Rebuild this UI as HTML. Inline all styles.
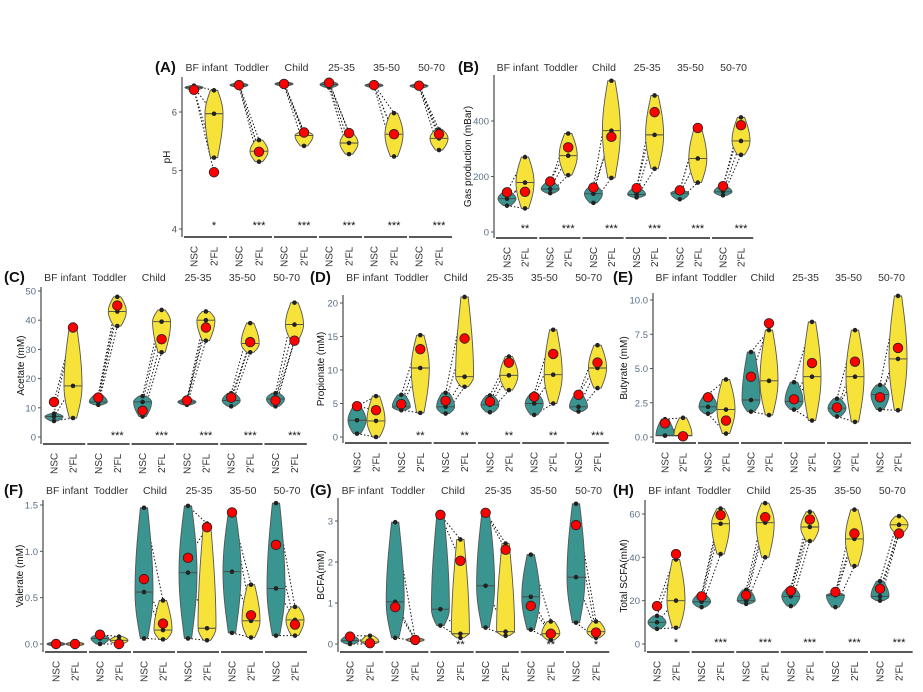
<!DOCTYPE html>
<html><head><meta charset="utf-8">
<style>
html,body{margin:0;padding:0;background:#fff;}
svg{display:block;font-family:"Liberation Sans",sans-serif;}
</style></head>
<body>
<svg id="fig" width="923" height="692" viewBox="0 0 923 692" xmlns="http://www.w3.org/2000/svg"></svg>
<script>
const groups = ["BF infant","Toddler","Child","25-35","35-50","50-70"];
// Panel A pH
const aNsc=[[6.38,6.42,6.45],[6.44,6.46,6.48],[6.46,6.48,6.5],[6.42,6.47,6.52],[6.44,6.46,6.47],[6.43,6.45,6.46]];
const aFl=[[5.22,5.97,6.37],[5.15,5.33,5.52],[5.42,5.6,5.66],[5.28,5.47,5.65],[5.24,5.62,5.98],[5.35,5.55,5.7]];
const aRed=[[6.38,4.97],[6.46,5.32],[6.48,5.65],[6.5,5.64],[6.46,5.62],[6.45,5.62]];
const aSig=["*","***","***","***","***","***"];
const aTicks=[4,5,6];
// Panel B gas
const bNsc=[[95,120,145],[140,155,180],[105,138,165],[125,135,158],[118,140,150],[132,145,165]];
const bFl=[[85,178,270],[205,275,355],[195,365,545],[228,350,492],[178,265,375],[278,328,413]];
const bRed=[[143,145],[182,305],[160,343],[158,432],[150,375],[165,385]];
const bSig=["**","***","***","***","***","***"];
const bTicks=[0,200,400];
// Panel C acetate
const cNsc=[[5.5,7,8],[11,12,14.5],[7,12,14],[11,12,13],[10.5,12.5,15],[10.5,13,15]];
const cFl=[[6.5,17.5,38],[38,43,48],[29,39.5,43.5],[33,40,43],[29,32,39],[33,38.5,46]];
const cRed=[[12,37.5],[13.5,45],[9,33.5],[12.5,37.5],[13.5,32.5],[12.5,33]];
const cSig=["","***","***","***","***","***"];
const cTicks=[0,10,20,30,40,50];
// Panel D propionate
const dNsc=[[0.5,2.5,4.6],[4,4.5,6.3],[3.5,4.5,6.6],[3.7,4.8,6.2],[3.3,5,6.5],[3.8,4.5,6.4]];
const dFl=[[0,2.4,6.1],[3.6,10.3,15.2],[7.5,9,20.9],[7,9.2,12],[5,9.3,16],[7.3,10.3,13.7]];
const dRed=[[4.6,4.0],[4.9,13.1],[5.4,14.7],[5.3,11.1],[6,12.4],[6.3,11.1]];
const dSig=["","**","**","**","**","***"];
const dTicks=[0,5,10,15,20];
// Panel E butyrate
const eNsc=[[0.1,0.1,1.3],[1.7,2.2,3.1],[1.85,2.7,6.2],[2,2.6,4],[1.5,2.1,2.8],[2,3.1,3.8]];
const eFl=[[0.1,0.1,1.4],[0.25,2,4.2],[1.6,4.1,7.8],[1.2,4.4,8.4],[1.1,4.4,7.8],[1.95,5.7,10.3]];
const eRed=[[1.0,0.05],[2.9,1.2],[4.4,8.3],[2.75,5.4],[2.15,5.5],[2.9,6.5]];
const eSig=["","","","","",""];
const eTicks=[0,2.5,5,7.5,10];
// Panel F valerate
const fNsc=[[0,0,0],[0,0.06,0.1],[0.06,0.56,1.47],[0.06,0.77,1.49],[0.12,0.78,1.42],[0.09,0.6,1.52]];
const fFl=[[0,0,0],[0,0.04,0.08],[0.05,0.15,0.47],[0.04,0.17,1.3],[0.07,0.25,0.64],[0.09,0.26,0.4]];
const fRed=[[0,0],[0.1,0],[0.7,0.22],[0.93,1.26],[1.42,0.31],[1.07,0.21]];
const fSig=["","","","","",""];
const fTicks=[0,0.5,1,1.5];
// Panel G BCFA
const gNsc=[[0,0.08,0.2],[0.15,1.03,2.97],[0.45,0.85,3.15],[0.4,1.42,3.22],[0.35,1.15,2.18],[0.52,1.63,3.42]];
const gFl=[[0,0.05,0.2],[0.08,0.1,0.12],[0.15,0.25,2.55],[0.2,0.3,2.45],[0.1,0.25,0.55],[0.15,0.3,0.55]];
const gRed=[[0.18,0.02],[0.9,0.1],[3.15,2.03],[3.2,2.3],[0.93,0.25],[2.9,0.28]];
const gSig=["","","**","","**","*"];
const gTicks=[0,1,2,3];
// Panel H total SCFA
const hNsc=[[7,10,13],[17,19.5,23],[18.5,20,25],[17.5,22,26],[17,22.5,23.5],[20,22,29]];
const hFl=[[7.5,20,39],[41.5,55.5,62.5],[40,56,65],[47.5,54,61],[36,48.5,62],[51,55,59]];
const hRed=[[17.5,41.5],[22,59.5],[22.5,58.5],[24.5,57.5],[24,51],[25.5,51]];
const hSig=["*","***","***","***","***","***"];
const hTicks=[0,20,40,60];

const svg=document.getElementById('fig');
const NS="http://www.w3.org/2000/svg";
function mk(tag,attrs,parent){const e=document.createElementNS(NS,tag);for(const k in attrs)e.setAttribute(k,attrs[k]);(parent||svg).appendChild(e);return e;}

function panel(cfg,nsc,fl,red,sig,ticks){
  const g=mk('g',{});
  
  
  const y=v=>cfg.y0+(v-cfg.v0)*(cfg.y1-cfg.y0)/(cfg.v1-cfg.v0);
  const lt=mk('text',{x:cfg.lx,y:cfg.ly+5,'font-size':15,'font-weight':'bold',fill:'#111'},g);
  lt.textContent='('+cfg.letter+')';
  
  
  const ax=mk('line',{x1:cfg.ax,x2:cfg.ax,y1:cfg.top,y2:cfg.bot,stroke:'#555','stroke-width':1.3},g);
  
  
  ticks.forEach(t=>{
    const ty=y(t);
    mk('line',{x1:cfg.ax-3,x2:cfg.ax,y1:ty,y2:ty,stroke:'#555','stroke-width':1},g);
    const tt=mk('text',{x:cfg.ax-5,y:ty+3.5,'font-size':9.5,'text-anchor':'end',fill:cfg.tickCol},g);
    tt.textContent=cfg.fmt?cfg.fmt(t):String(t);
    
    
  });
  const yl=mk('text',{x:cfg.ylx,y:(cfg.top+cfg.bot)/2,'font-size':10,'text-anchor':'middle',fill:'#111',transform:'rotate(-90 '+cfg.ylx+' '+((cfg.top+cfg.bot)/2)+')'},g);
  yl.textContent=cfg.ylabel;
  
  
  groups.forEach((name,i)=>{
    const fx=cfg.ax+1+i*cfg.fw;
    const xn=fx+cfg.on, xf=fx+cfg.of;
    const gl=mk('text',{x:fx+cfg.fw/2+1,y:cfg.ly+4,'font-size':10.5,'text-anchor':'middle',fill:'#333'},g);
    gl.textContent=name;
    
    
    const seg=mk('line',{x1:fx+1,x2:fx+cfg.fw-1,y1:cfg.bot,y2:cfg.bot,stroke:'#222','stroke-width':1.6},g);
    
    
    [[xn,'NSC'],[xf,"2'FL"]].forEach(([xx,lab])=>{
      const t=mk('text',{'font-size':10,'text-anchor':'start',fill:'#333'},g);
      t.setAttribute('transform','translate('+(xx+3.5)+','+(cfg.bot+4)+') rotate(-90)');
      t.setAttribute('x',-28+(lab==='NSC'?2:3));t.setAttribute('y',0);
      t.textContent=lab;
      
      
    });
    for(let k=0;k<3;k++){
      mk('line',{x1:xn,y1:y(nsc[i][k]),x2:xf,y2:y(fl[i][k]),stroke:'#111','stroke-width':1,'stroke-dasharray':'1.5,2'},g);
    }
    mk('line',{x1:xn,y1:y(red[i][0]),x2:xf,y2:y(red[i][1]),stroke:'#111','stroke-width':1,'stroke-dasharray':'1.5,2'},g);
    [[xn,nsc[i],'#3a9590','violin-nsc'],[xf,fl[i],'#f7e23a','violin-2fl']].forEach(([cx,s,col,nm])=>{
      let ymin=y(s[0]), ymax=y(s[2]), ymed=y(s[1]);
      if(ymin-ymax<4){const c=(ymin+ymax)/2;ymin=c+2;ymax=c-2;ymed=c;}
      const N=24,W=cfg.vw,L=[],R=[];
      for(let j=0;j<=N;j++){
        const py=ymin+(ymax-ymin)*j/N;
        let sv= py>ymed ? (ymin-py)/Math.max(ymin-ymed,0.5) : (py-ymax)/Math.max(ymed-ymax,0.5);
        sv=Math.max(0,Math.min(1,sv));
        const w=W*(0.4+0.6*Math.sin(Math.PI/2*sv));
        L.push((cx-w)+','+py);R.unshift((cx+w)+','+py);
      }
      const v=mk('polygon',{points:L.concat(R).join(' '),fill:col,stroke:'#555','stroke-width':0.9},g);
      
      
      mk('line',{x1:cx-W*0.95,x2:cx+W*0.95,y1:y(s[1]),y2:y(s[1]),stroke:'#444','stroke-width':0.9},g);
      s.forEach(val=>{
        const d=mk('circle',{cx:cx,cy:y(val),r:2.3,fill:'#222'},g);
        
        
      });
    });
    [[xn,red[i][0]],[xf,red[i][1]]].forEach(([cx,val])=>{
      const r=mk('circle',{cx:cx,cy:y(val),r:4.8,fill:'#f00',stroke:'#222','stroke-width':0.8},g);
      
      
    });
    if(sig[i]){
      const st=mk('text',{x:xf,y:cfg.sy,'font-size':11,'text-anchor':'middle',fill:'#111'},g);
      st.textContent=sig[i];
      
      
    }
  });
}
const fmt1=t=>t.toFixed(1);
panel({letter:'A',lx:155,ly:67,ax:182,top:77,bot:237,y0:229,v0:4,y1:112,v1:6,fw:45,on:11,of:31,vw:9,ylx:170,ylabel:'pH',sy:229,tickCol:'#555'},aNsc,aFl,aRed,aSig,aTicks);
panel({letter:'B',lx:458,ly:67,ax:494,top:75,bot:238,y0:232,v0:0,y1:121,v1:400,fw:43.2,on:12,of:30,vw:9,ylx:471,ylabel:'Gas production (mBar)',sy:232,tickCol:'#5a6e86'},bNsc,bFl,bRed,bSig,bTicks);
panel({letter:'C',lx:4,ly:277,ax:41,top:287,bot:444,y0:437,v0:0,y1:291,v1:50,fw:44.3,on:12,of:31,vw:9,ylx:24,ylabel:'Acetate (mM)',sy:439,tickCol:'#5a6e86'},cNsc,cFl,cRed,cSig,cTicks);
panel({letter:'D',lx:310,ly:277,ax:343,top:295,bot:443,y0:437,v0:0,y1:303,v1:20,fw:44.3,on:13,of:32,vw:9,ylx:324,ylabel:'Propionate (mM)',sy:439,tickCol:'#5a6e86'},dNsc,dFl,dRed,dSig,dTicks);
panel({letter:'E',lx:613,ly:277,ax:653,top:293,bot:443,y0:437,v0:0,y1:300,v1:10,fw:43,on:11,of:29,vw:9,ylx:627,ylabel:'Butyrate (mM)',sy:439,fmt:fmt1,tickCol:'#5a6e86'},eNsc,eFl,eRed,eSig,eTicks);
panel({letter:'F',lx:4,ly:490,ax:43,top:500,bot:652,y0:644,v0:0,y1:505,v1:1.5,fw:44,on:12,of:31,vw:9,ylx:23,ylabel:'Valerate (mM)',sy:648,fmt:fmt1,tickCol:'#5a6e86'},fNsc,fFl,fRed,fSig,fTicks);
panel({letter:'G',lx:310,ly:490,ax:338,top:498,bot:652,y0:644,v0:0,y1:521,v1:3,fw:45.2,on:11,of:31,vw:9,ylx:324,ylabel:'BCFA(mM)',sy:648,tickCol:'#5a6e86'},gNsc,gFl,gRed,gSig,gTicks);
panel({letter:'H',lx:613,ly:490,ax:645,top:500,bot:652,y0:644,v0:0,y1:514,v1:60,fw:44.6,on:11,of:30,vw:9,ylx:627,ylabel:'Total SCFA(mM)',sy:646,tickCol:'#5a6e86'},hNsc,hFl,hRed,hSig,hTicks);
</script>
</body></html>
